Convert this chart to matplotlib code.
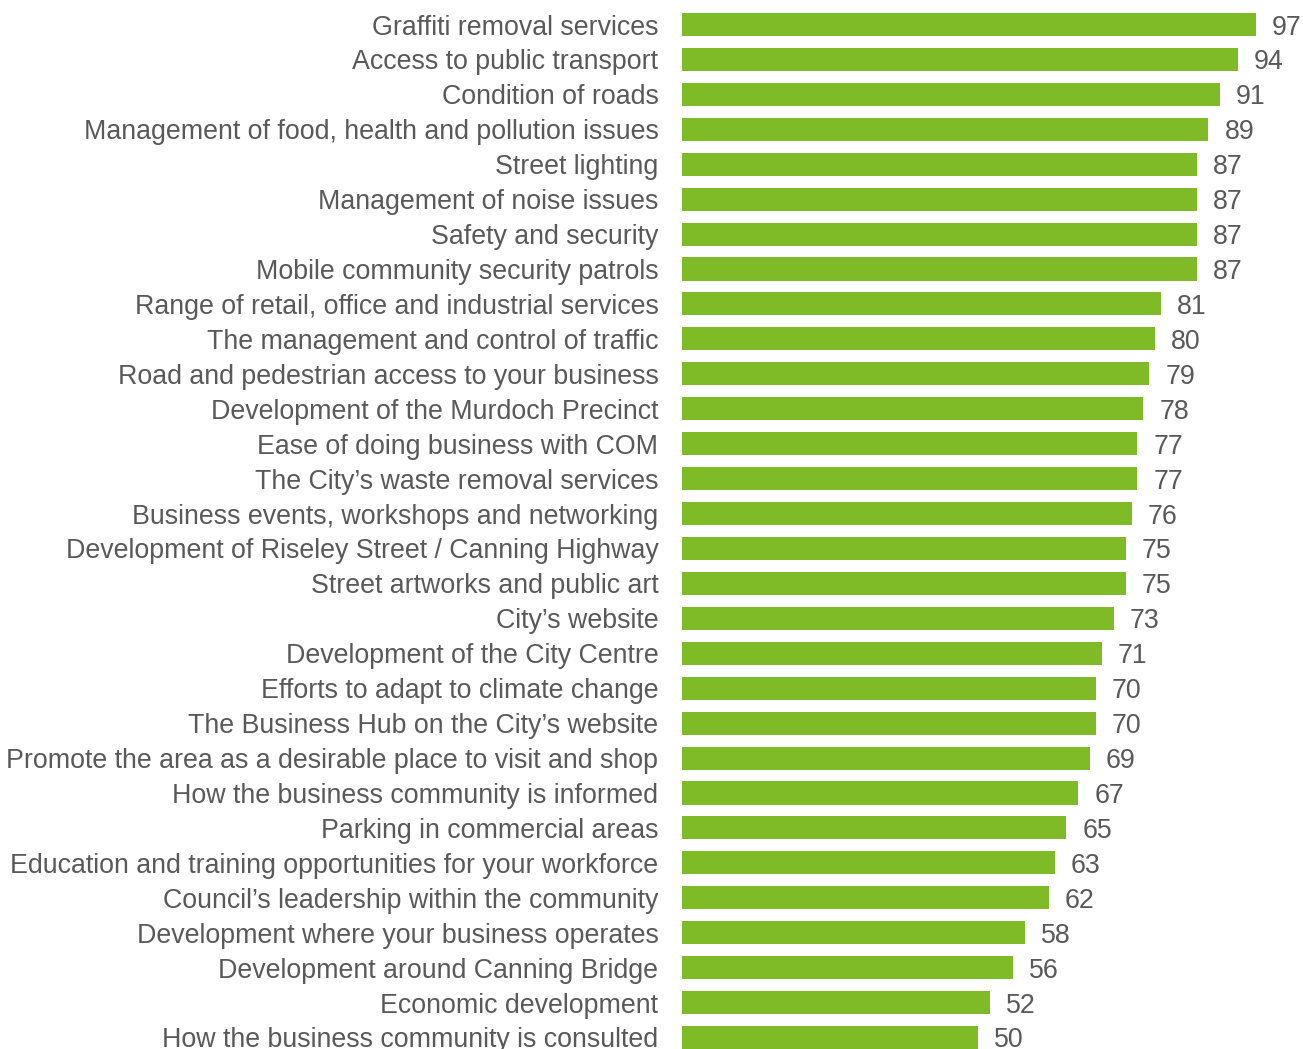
import matplotlib
matplotlib.use("Agg")
import matplotlib.pyplot as plt

plt.rcParams['font.family'] = ['Liberation Sans', 'DejaVu Sans']

categories = [
    "Graffiti removal services",
    "Access to public transport",
    "Condition of roads",
    "Management of food, health and pollution issues",
    "Street lighting",
    "Management of noise issues",
    "Safety and security",
    "Mobile community security patrols",
    "Range of retail, office and industrial services",
    "The management and control of traffic",
    "Road and pedestrian access to your business",
    "Development of the Murdoch Precinct",
    "Ease of doing business with COM",
    "The City\u2019s waste removal services",
    "Business events, workshops and networking",
    "Development of Riseley Street / Canning Highway",
    "Street artworks and public art",
    "City\u2019s website",
    "Development of the City Centre",
    "Efforts to adapt to climate change",
    "The Business Hub on the City\u2019s website",
    "Promote the area as a desirable place to visit and shop",
    "How the business community is informed",
    "Parking in commercial areas",
    "Education and training opportunities for your workforce",
    "Council\u2019s leadership within the community",
    "Development where your business operates",
    "Development around Canning Bridge",
    "Economic development",
    "How the business community is consulted",
]
values = [97, 94, 91, 89, 87, 87, 87, 87, 81, 80, 79, 78, 77, 77, 76,
          75, 75, 73, 71, 70, 70, 69, 67, 65, 63, 62, 58, 56, 52, 50]

W, H = 1303, 1049
bar_color = '#7FBA27'
text_color = '#595959'
fs = 19.3

fig = plt.figure(figsize=(W / 100, H / 100), dpi=100)
ax = fig.add_axes([682 / W, 0, (W - 682) / W, 1])

pos = list(range(len(categories)))
ax.barh(pos, values, height=0.66, color=bar_color)

row = 34.93
ax.set_ylim(len(categories) - 1 + (H - 1037.5) / row, -24.5 / row)
ax.set_xlim(0, (W - 682) / 5.915)

# value labels just right of each bar
for i, v in enumerate(values):
    ax.annotate(str(v), (v, i), xytext=(11.5, 0), textcoords='offset points',
                va='center_baseline', ha='left', fontsize=fs, color=text_color)

ax.set_yticks(pos)
ax.set_yticklabels(categories, fontsize=fs, color=text_color)
ax.tick_params(axis='y', length=0, pad=17)
ax.set_xticks([])
for s in ax.spines.values():
    s.set_visible(False)

fig.savefig('out.png', dpi=100)
